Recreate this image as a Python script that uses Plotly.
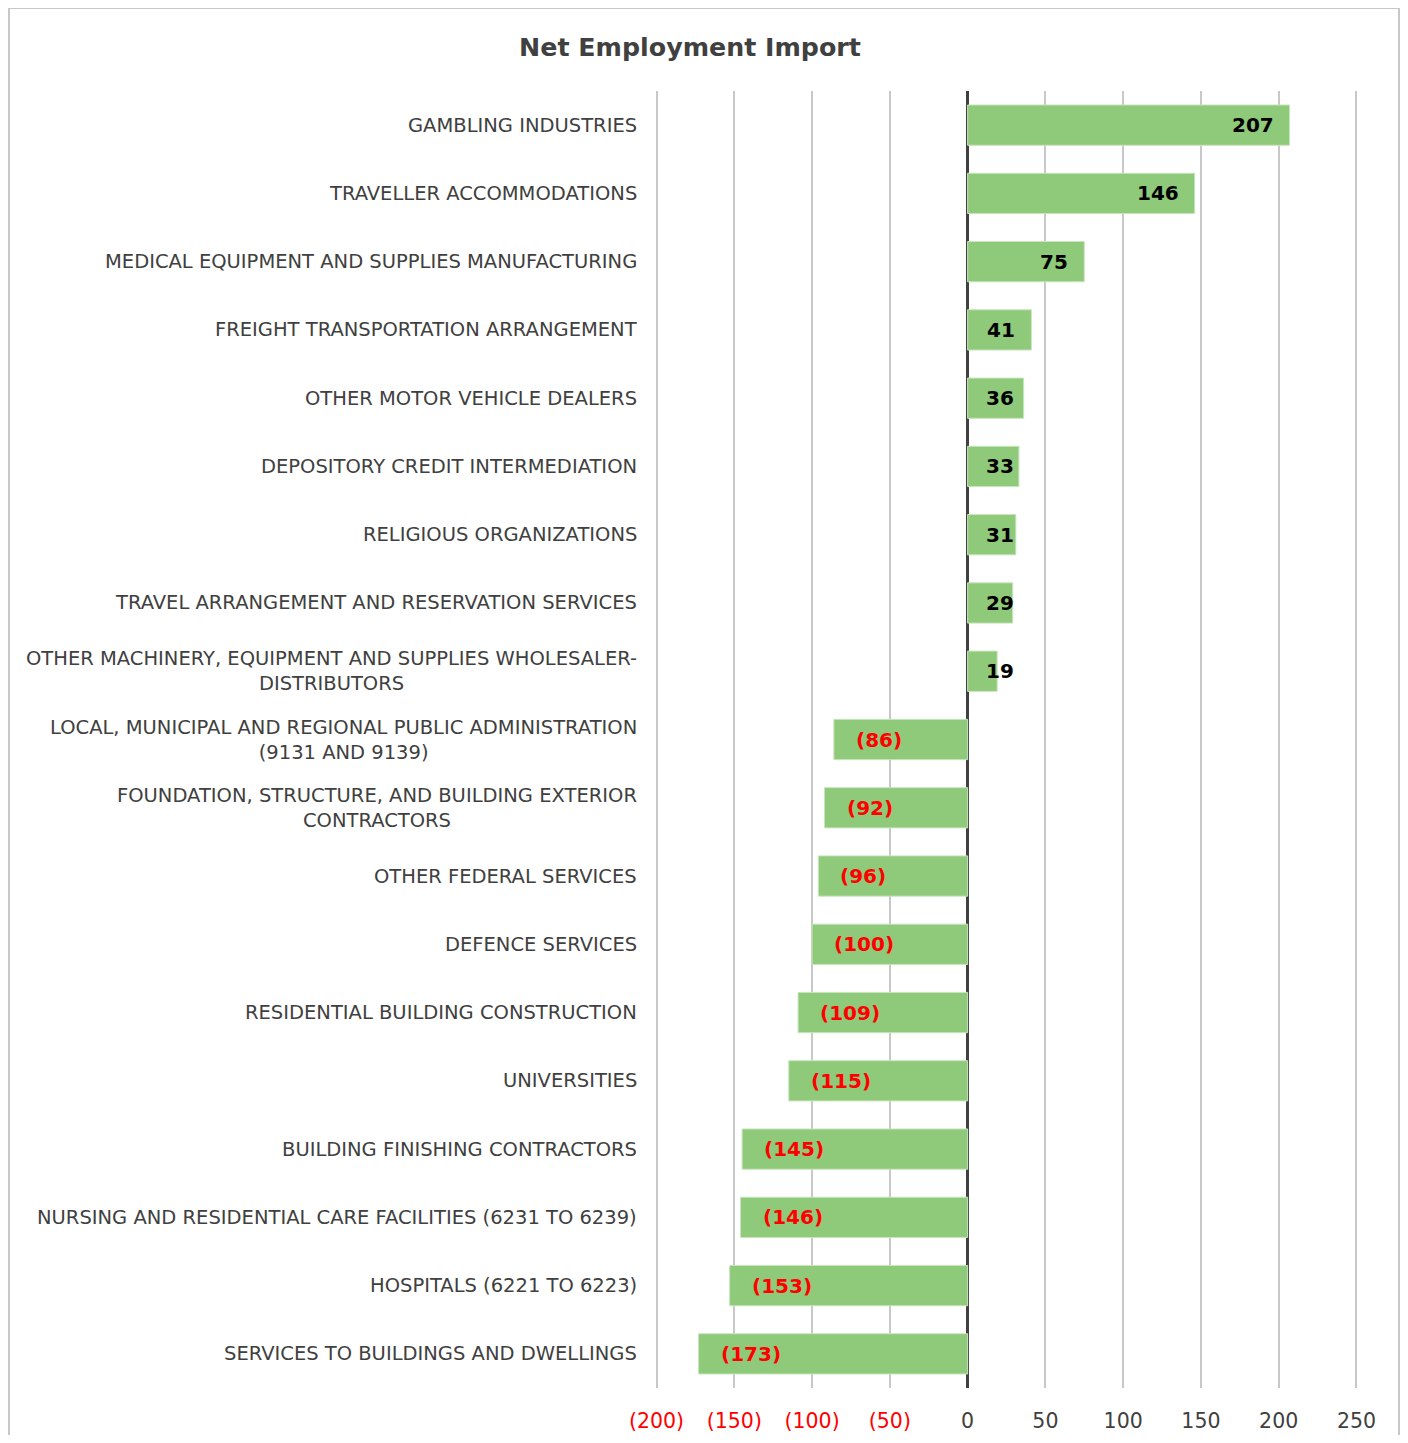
import plotly.graph_objects as go

categories = [
    "GAMBLING INDUSTRIES",
    "TRAVELLER ACCOMMODATIONS",
    "MEDICAL EQUIPMENT AND SUPPLIES MANUFACTURING",
    "FREIGHT TRANSPORTATION ARRANGEMENT",
    "OTHER MOTOR VEHICLE DEALERS",
    "DEPOSITORY CREDIT INTERMEDIATION",
    "RELIGIOUS ORGANIZATIONS",
    "TRAVEL ARRANGEMENT AND RESERVATION SERVICES",
    "OTHER MACHINERY, EQUIPMENT AND SUPPLIES WHOLESALER-<br>DISTRIBUTORS",
    "LOCAL, MUNICIPAL AND REGIONAL PUBLIC ADMINISTRATION<br>(9131 AND 9139)",
    "FOUNDATION, STRUCTURE, AND BUILDING EXTERIOR<br>CONTRACTORS",
    "OTHER FEDERAL SERVICES",
    "DEFENCE SERVICES",
    "RESIDENTIAL BUILDING CONSTRUCTION",
    "UNIVERSITIES",
    "BUILDING FINISHING CONTRACTORS",
    "NURSING AND RESIDENTIAL CARE FACILITIES (6231 TO 6239)",
    "HOSPITALS (6221 TO 6223)",
    "SERVICES TO BUILDINGS AND DWELLINGS",
]
values = [207, 146, 75, 41, 36, 33, 31, 29, 19, -86, -92, -96, -100, -109, -115, -145, -146, -153, -173]

tick_vals = [-200, -150, -100, -50, 0, 50, 100, 150, 200, 250]
tick_labels = ["(200)", "(150)", "(100)", "(50)", "0", "50", "100", "150", "200", "250"]

GREEN = "#8FC97A"
DARK = "#404040"
RED = "#FF0000"
FONT = "DejaVu Sans"

# page body has an 8px margin; the figure is sized/offset to compensate
OFF = 8
W, H = 1408 - 2 * OFF, 1443 - 2 * OFF
PL, PR = 655 - OFF, 1358 - OFF     # plot area (figure px)
PT, PB = 91 - OFF, 1388 - OFF

ids = list(range(len(categories)))

fig = go.Figure()
fig.add_trace(go.Bar(
    x=values, y=ids, orientation="h",
    marker=dict(color=GREEN, line=dict(color="#C9E5BD", width=1)),
    width=0.59, hoverinfo="skip",
))

def fmt(v):
    return f"({abs(v)})" if v < 0 else f"{v}"

annotations = []
for i, (c, v) in enumerate(zip(categories, values)):
    annotations.append(dict(
        x=0, xref="paper", y=i, yref="y", text=c, showarrow=False,
        xanchor="right", yanchor="middle", align="center", xshift=-16,
        font=dict(family=FONT, size=19.5, color=DARK),
    ))
    if v < 0:
        annotations.append(dict(
            x=v, y=i, text=fmt(v), showarrow=False, xanchor="left", xshift=20,
            font=dict(family=FONT, size=20, color=RED, weight="bold"),
        ))
    elif v < 37:
        annotations.append(dict(
            x=0, y=i, text=fmt(v), showarrow=False, xanchor="left", xshift=16,
            font=dict(family=FONT, size=20, color="#000000", weight="bold"),
        ))
    else:
        annotations.append(dict(
            x=v, y=i, text=fmt(v), showarrow=False, xanchor="right", xshift=-14,
            font=dict(family=FONT, size=20, color="#000000", weight="bold"),
        ))

ticktext = [f"<span style='color:{RED}'>{t}</span>" if v < 0 else t for v, t in zip(tick_vals, tick_labels)]

pw = PR - PL
ph = PB - PT

fig.update_layout(
    width=W, height=H,
    margin=dict(l=PL, r=W - PR, t=PT, b=H - PB, autoexpand=False),
    paper_bgcolor="white", plot_bgcolor="white",
    showlegend=False,
    title=dict(text="<b>Net Employment Import</b>", x=(690 - OFF) / W, xref="container", xanchor="center",
               y=1 - (47 - OFF) / H, yref="container", yanchor="middle",
               font=dict(family=FONT, size=25.3, color=DARK)),
    xaxis=dict(range=[-201, 251], tickvals=tick_vals, ticktext=ticktext,
               showgrid=True, gridcolor="#C8C8C8", gridwidth=1.5,
               zeroline=True, zerolinecolor=DARK, zerolinewidth=3,
               showline=False, ticks="", ticklabelstandoff=18,
               tickfont=dict(family=FONT, size=20.5, color=DARK), fixedrange=True),
    yaxis=dict(range=[len(categories) - 0.5, -0.5], showticklabels=False, showgrid=False,
               zeroline=False, showline=False, ticks="", fixedrange=True),
    annotations=annotations,
    shapes=[dict(type="rect", xref="paper", yref="paper",
                 x0=(1 - PL) / pw, x1=(W - 1 - PL) / pw,
                 y0=(PB - (H + 20)) / ph, y1=(PB - 0) / ph,
                 line=dict(color="#C8C8C8", width=2), fillcolor="rgba(0,0,0,0)", layer="below")],
    bargap=0.41,
)

fig.write_html("out.html")
